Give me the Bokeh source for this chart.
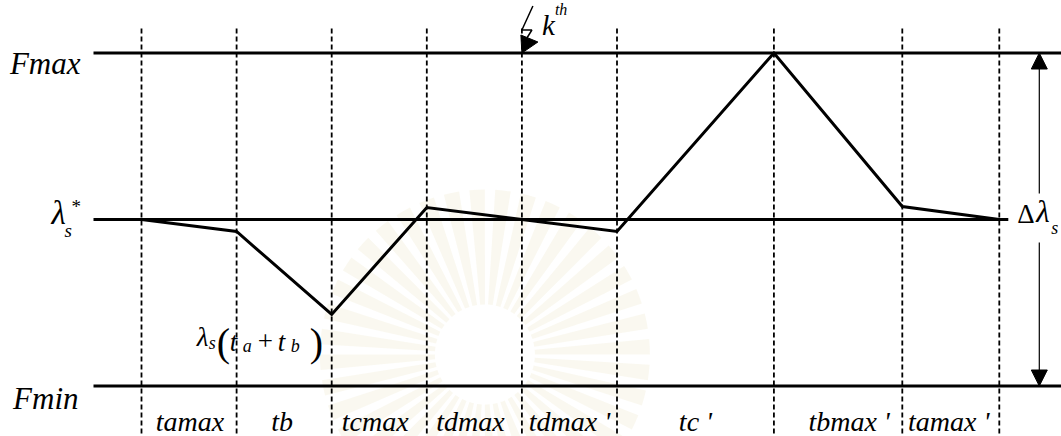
import math

from bokeh.plotting import figure
from bokeh.models import Range1d, Arrow, NormalHead, ColumnDataSource
from bokeh.core.properties import value
from bokeh.embed import file_html
from bokeh.resources import INLINE

# ---- data -------------------------------------------------------------
# switching instants (normalised time) bounding the eight sub-intervals
boundaries_t = [0.0, 1.0, 2.0, 3.0, 4.0, 5.0, 6.65, 8.0, 9.02]
interval_labels = ["tamax", "tb", "tcmax", "tdmax", "tdmax '", "tc '", "tbmax '", "tamax '"]

# stator flux trajectory at each switching instant (0 = reference, ±1 = band limits)
wave_t = [0.0, 1.0, 2.0, 3.0, 4.0, 5.0, 6.65, 8.0, 9.02]
wave_level = [0.0, -0.072, -0.57, 0.072, 0.0, -0.072, 1.0, 0.078, 0.0]

level_names = ["Fmax", "Fmin"]
level_values = [1.0, -1.0]
ref_level = 0.0
kth_instant = 4.0

# ---- scale helpers (pixels per data unit) -----------------------------
W, H = 1061, 436
PX_T = 95.1      # px per time unit
PX_L = 166.5     # px per level unit
X0_PX, Y0_PX = 141, 219


def dx(px):
    return px / PX_T


def dy(px):
    # screen pixels grow downward; levels grow upward
    return -px / PX_L


p = figure(width=W, height=H, min_border=0, toolbar_location=None,
           output_backend="svg", x_axis_location=None, y_axis_location=None,
           x_range=Range1d(-X0_PX / PX_T, (W - X0_PX) / PX_T),
           y_range=Range1d((Y0_PX - H) / PX_L, Y0_PX / PX_L))
p.outline_line_color = None
p.grid.visible = False
p.background_fill_color = "white"
p.border_fill_color = "white"

SERIF = value("'Liberation Serif', 'Times New Roman', Times, serif")

# ---- faint emblem behind the diagram ----------------------------------
n_rays = 40
step = 2 * math.pi / n_rays
ray_start = [i * step for i in range(n_rays)]
ray_end = [a + 0.6 * step for a in ray_start]
ex, ey = kth_instant + dx(-37), ref_level + dy(135)
p.annular_wedge(x=[ex] * n_rays, y=[ey] * n_rays, inner_radius=dx(50), outer_radius=dx(165),
                start_angle=ray_start, end_angle=ray_end,
                fill_color="#eee6c8", fill_alpha=0.28, line_color=None)

# ---- vertical dashed markers at every switching instant ---------------
top = ref_level + dy(-191)
bottom = ref_level + dy(230)
p.segment(x0=boundaries_t, y0=[top] * len(boundaries_t),
          x1=boundaries_t, y1=[bottom] * len(boundaries_t),
          line_color="black", line_width=1.8, line_dash="5 3")

# ---- horizontal band lines --------------------------------------------
left_edge = boundaries_t[0] + dx(-48)
right_edge = (W - X0_PX) / PX_T
for lv in level_values:
    p.line([left_edge, right_edge], [lv, lv], line_color="black", line_width=3)
p.line([left_edge, boundaries_t[-1] + dx(9)], [ref_level, ref_level],
       line_color="black", line_width=3)

# ---- flux trajectory --------------------------------------------------
p.line(wave_t, wave_level, line_color="black", line_width=3, line_join="miter")

# ---- level labels -----------------------------------------------------
p.text(x=[left_edge + dx(-13), left_edge + dx(-15)],
       y=[level_values[0] + dy(10), level_values[1] + dy(12)],
       text=level_names, text_align="right", text_baseline="alphabetic",
       text_font=SERIF, text_font_style="italic", text_font_size="31px", text_color="black")

# λs* reference label
lx = left_edge + dx(-42)
p.text(x=[lx], y=[ref_level + dy(11)], text=["λ"], text_align="left",
       text_font=SERIF, text_font_style="italic", text_font_size="33px")
p.text(x=[lx + dx(13)], y=[ref_level + dy(21)], text=["s"], text_align="left",
       text_font=SERIF, text_font_style="italic", text_font_size="19px")
p.text(x=[lx + dx(20)], y=[ref_level + dy(-3)], text=["*"], text_align="left",
       text_font=SERIF, text_font_size="19px")

# ---- interval labels under the lower band -----------------------------
mids = [(a + b) / 2 for a, b in zip(boundaries_t[:-1], boundaries_t[1:])]
nudge_px = [1, -2, -4, -4, 0, 0, 11, -2]
label_src = ColumnDataSource(dict(x=[m + dx(n) for m, n in zip(mids, nudge_px)],
                                  y=[level_values[1] + dy(35)] * len(mids),
                                  text=interval_labels))
p.text(x="x", y="y", text="text", source=label_src, text_align="center",
       text_baseline="alphabetic", text_font=SERIF, text_font_style="italic",
       text_font_size="28px", text_color="black")

# ---- λs(ta + tb) label beside the trough ------------------------------
tx, ty = wave_t[2], wave_level[2]
parts = [
    ("λ", -135, 23, "27px", "italic"),
    ("s", -123, 29, "18px", "italic"),
    ("(", -115, 28, "40px", "normal"),
    ("t", -102, 28, "27px", "italic"),
    ("a", -89, 32, "18px", "italic"),
    ("+", -74, 27, "27px", "normal"),
    ("t", -54, 28, "27px", "italic"),
    ("b", -41, 32, "18px", "italic"),
    (")", -22, 28, "40px", "normal"),
]
for txt, ox, oy, fs, st in parts:
    p.text(x=[tx + dx(ox)], y=[ty + dy(oy)], text=[txt], text_align="left",
           text_baseline="alphabetic", text_font=SERIF, text_font_style=st,
           text_font_size=fs, text_color="black")

# ---- k-th sampling instant marker -------------------------------------
kx, ky = kth_instant, level_values[0]
p.line([kx + dx(11), kx, kx + dx(10), kx + dx(5)],
       [ky + dy(-47), ky + dy(-23), ky + dy(-23), ky + dy(-15)],
       line_color="black", line_width=1.5)
p.patch([kx, kx - dx(1), kx + dx(16)], [ky, ky + dy(-18), ky + dy(-11)],
        fill_color="black", line_color="black")
p.text(x=[kx + dx(20)], y=[ky + dy(-12)], text=["k"], text_align="left",
       text_font=SERIF, text_font_style="italic", text_font_size="29px")
p.text(x=[kx + dx(33)], y=[ky + dy(-35)], text=["th"], text_align="left",
       text_font=SERIF, text_font_style="italic", text_font_size="16px")

# ---- Δλs band-width arrow ---------------------------------------------
ax = boundaries_t[-1] + dx(40)
p.add_layout(Arrow(end=NormalHead(size=16, fill_color="black", line_color="black"),
                   x_start=ax, y_start=ref_level + dy(-26), x_end=ax, y_end=level_values[0],
                   line_color="black", line_width=1.2))
p.add_layout(Arrow(end=NormalHead(size=16, fill_color="black", line_color="black"),
                   x_start=ax, y_start=ref_level + dy(23), x_end=ax, y_end=level_values[1],
                   line_color="black", line_width=1.2))
p.text(x=[ax + dx(-22)], y=[ref_level + dy(9)], text=["Δ"], text_align="left",
       text_font=SERIF, text_font_size="27px")
p.text(x=[ax + dx(-3)], y=[ref_level + dy(9)], text=["λ"], text_align="left",
       text_font=SERIF, text_font_style="italic", text_font_size="31px")
p.text(x=[ax + dx(12)], y=[ref_level + dy(18)], text=["s"], text_align="left",
       text_font=SERIF, text_font_style="italic", text_font_size="18px")

open("out.html", "w").write(file_html(p, INLINE))
